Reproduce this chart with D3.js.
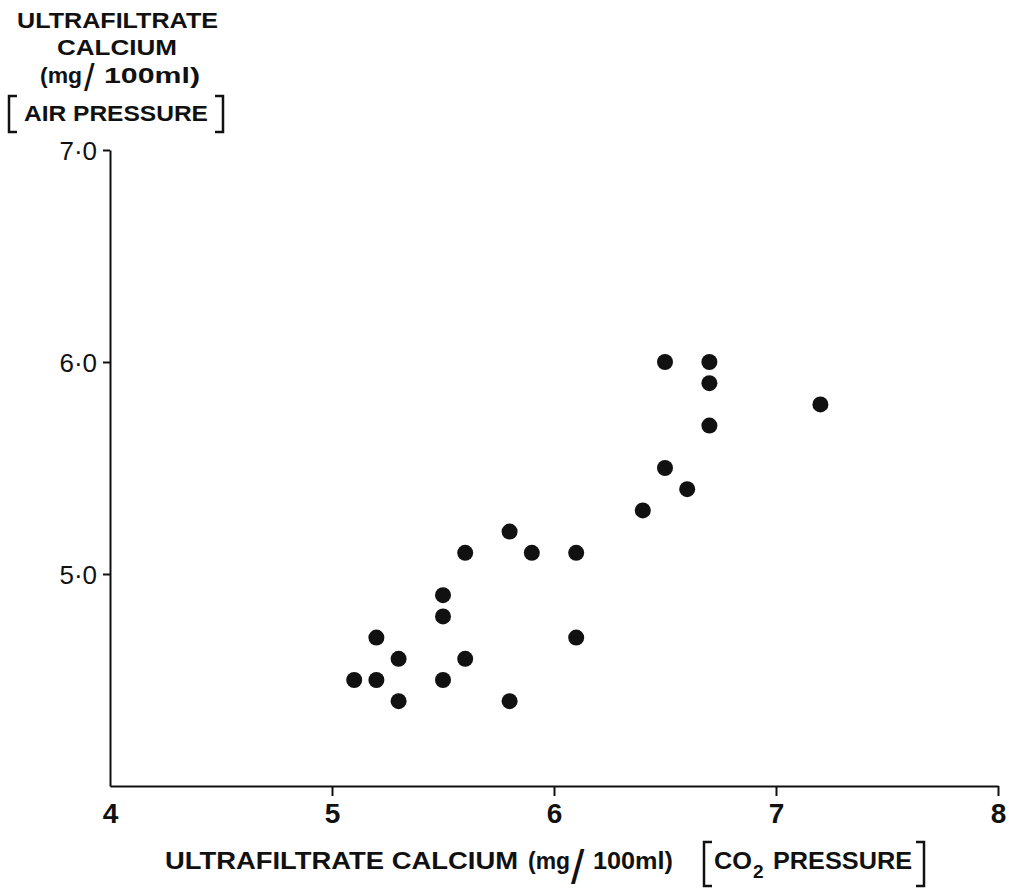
<!DOCTYPE html>
<html>
<head>
<meta charset="utf-8">
<script src="https://cdn.jsdelivr.net/npm/d3@7"></script>
<style>
  body { margin: 0; background: #fff; }
  svg { display: block; }
  .title { font-family: "Liberation Sans", Arial, sans-serif; font-weight: bold; fill: #111; }
</style>
</head>
<body>
<svg width="1009" height="896"></svg>
<script>
// ultrafiltrate calcium, mg/100ml
const co2Pressure = [5.1, 5.2, 5.2, 5.3, 5.3, 5.5, 5.5, 5.5, 5.6, 5.6, 5.8, 5.9,
                     5.8, 6.1, 6.1, 6.4, 6.5, 6.6, 6.5, 6.7, 6.7, 6.7, 7.2];
const airPressure = [4.5, 4.5, 4.7, 4.6, 4.4, 4.5, 4.8, 4.9, 4.6, 5.1, 5.2, 5.1,
                     4.4, 4.7, 5.1, 5.3, 5.5, 5.4, 6.0, 6.0, 5.9, 5.7, 5.8];
const xTicks = [4, 5, 6, 7, 8];
const yTicks = [5, 6, 7];

var svg = d3.select("svg");

const plotLeft = 110, plotRight = 998, plotTop = 150, plotBottom = 786;

const x = d3.scaleLinear().domain([4, 8]).range([plotLeft, plotRight]);
const y = d3.scaleLinear().domain([4, 7]).range([plotBottom, plotTop]);

const points = co2Pressure.map((v, i) => ({x: v, y: airPressure[i]}));

// -----------------------------------------------------------------------------
// axes

let xAxis = svg.append("g")
  .attr("transform", `translate(0,${plotBottom})`)
  .call(d3.axisBottom(x).tickValues(xTicks).tickSize(10).tickSizeOuter(0)
          .tickFormat(d3.format("d")));
xAxis.select(".domain").attr("stroke", "#111").attr("stroke-width", 2);
xAxis.selectAll(".tick line").attr("stroke", "#111").attr("stroke-width", 2)
  .filter(d => d === 4).remove();
xAxis.selectAll(".tick text")
  .attr("font-family", "Liberation Sans, Arial, sans-serif")
  .attr("font-weight", "bold")
  .attr("font-size", 28)
  .attr("fill", "#111")
  .attr("dy", null)
  .attr("y", 37);

let yAxis = svg.append("g")
  .attr("transform", `translate(${plotLeft},0)`)
  .call(d3.axisLeft(y).tickValues(yTicks).tickSize(7).tickSizeOuter(0)
          .tickFormat(d => d3.format(".1f")(d).replace(".", "·")));
yAxis.select(".domain").attr("stroke", "#111").attr("stroke-width", 2);
yAxis.selectAll(".tick line").attr("stroke", "#111").attr("stroke-width", 2);
yAxis.selectAll(".tick text")
  .attr("font-family", "Liberation Sans, Arial, sans-serif")
  .attr("font-size", 26)
  .attr("fill", "#111")
  .attr("x", -13)
  .attr("dy", "0.36em");

// -----------------------------------------------------------------------------
// points

svg.append("g")
  .selectAll("circle")
  .data(points)
  .enter().append("circle")
  .attr("cx", d => x(d.x))
  .attr("cy", d => y(d.y))
  .attr("r", 8)
  .attr("fill", "#111");

// -----------------------------------------------------------------------------
// titles

function label(t, x0, y0, size, len) {
  let el = svg.append("text")
    .attr("class", "title")
    .attr("x", x0)
    .attr("y", y0)
    .attr("font-size", size)
    .text(t);
  if (len) el.attr("textLength", len).attr("lengthAdjust", "spacingAndGlyphs");
  return el;
}

function bracket(x0, y0, y1, dir) {
  // dir 1 = opening "[", -1 = closing "]"
  svg.append("path")
    .attr("d", `M${x0 + dir * 8},${y0}H${x0}V${y1}H${x0 + dir * 8}`)
    .attr("fill", "none")
    .attr("stroke", "#111")
    .attr("stroke-width", 2.5);
}

// y title, stacked above the axis
label("ULTRAFILTRATE", 17, 28, 22, 201);
label("CALCIUM", 57, 55, 22, 120);
label("(mg", 40, 83, 22, 42);
label("/", 84, 91, 38).style("font-weight", "normal");
label("100ml)", 104, 83, 22, 96);
label("AIR PRESSURE", 24, 121, 22, 184);
bracket(9, 96, 132, 1);
bracket(223, 96, 132, -1);

// x title
label("ULTRAFILTRATE CALCIUM", 165, 869, 24, 353);
label("(mg", 528, 869, 24, 42);
label("/", 571, 884, 48).style("font-weight", "normal");
label("100ml)", 593, 869, 24, 80);
bracket(704, 842, 886, 1);
label("CO", 714, 869, 24, 38);
label("2", 753, 878, 19);
label("PRESSURE", 773, 869, 24, 139);
bracket(924, 842, 886, -1);
</script>
</body>
</html>
